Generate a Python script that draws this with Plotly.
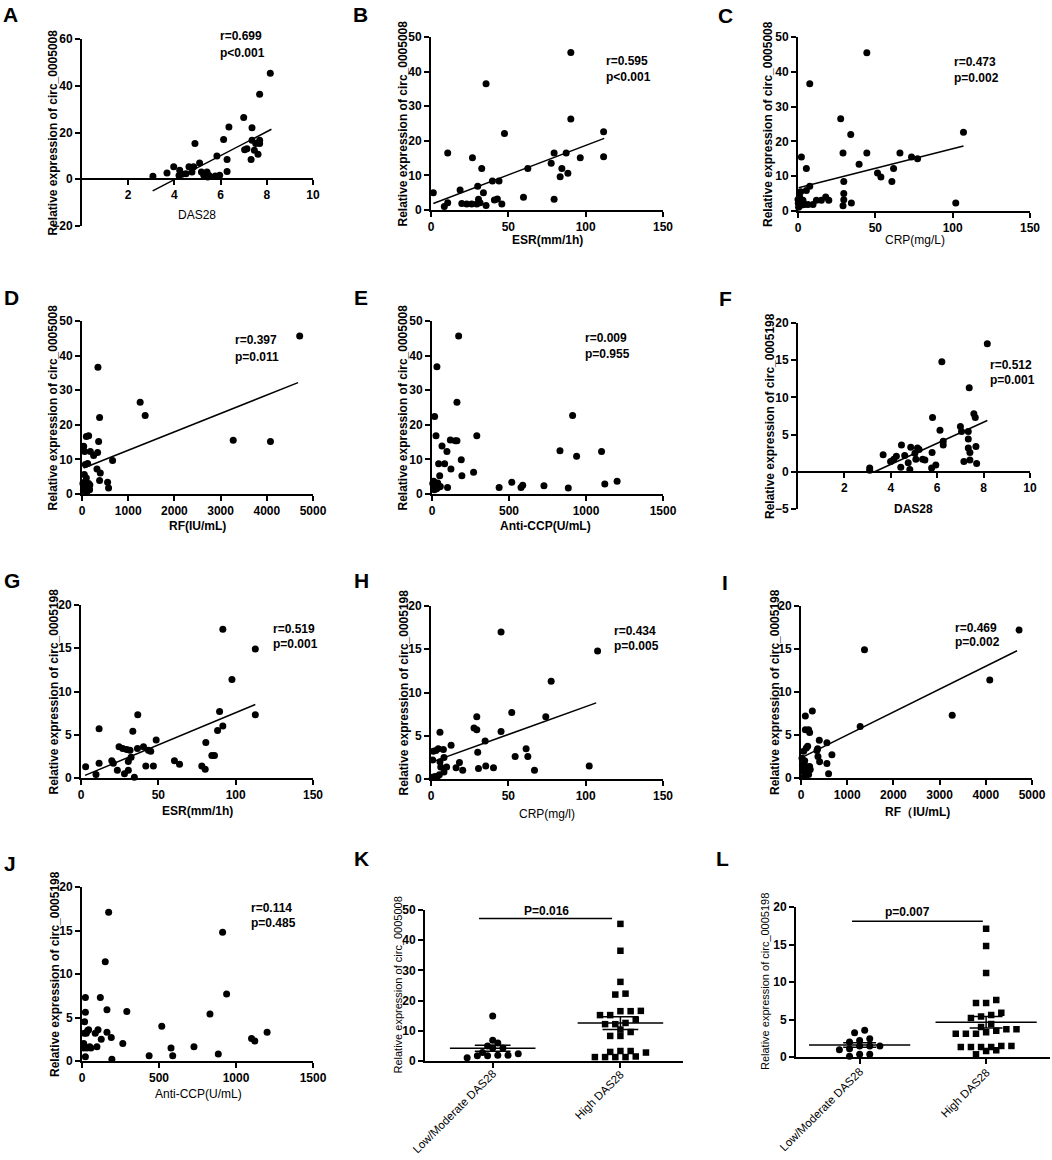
import plotly.graph_objects as go

W, H = 1052, 1160
FONT = "Liberation Sans, Arial, sans-serif"

# --- scatter data ---
a_x = [3.07, 3.68, 3.97, 4.23, 4.33, 4.5, 4.63, 4.76, 4.83, 4.89, 5.09, 5.17, 5.27, 5.41, 5.44, 5.77, 5.84, 5.96,
       6.13, 6.28, 6.28, 6.36, 7.0, 7.04, 7.14, 7.32, 7.36, 7.36, 7.46, 7.52, 7.62, 7.69, 7.69, 7.69, 8.15, 4.2, 5.35, 5.5]
a_y = [1.3, 2.7, 5.3, 3.9, 2.1, 2.4, 5.3, 3.1, 5.3, 15.3, 7.0, 3.1, 1.7, 3.1, 1.0, 1.4, 9.9, 1.7,
       17.0, 3.3, 8.4, 22.4, 26.4, 12.6, 13.1, 8.4, 22.0, 16.7, 12.4, 15.3, 10.7, 15.3, 16.7, 36.4, 45.3, 1.6, 2.2, 1.6]
a_fit_x = [3.06, 8.2]
a_fit_y = [-5.0, 21.4]

b_x = [1.5, 8.6, 10.8, 10.8, 18.8, 19.9, 23.1, 26.3, 26.8, 29.6, 30.2, 30.7, 31.7, 32.8, 33.9, 35.6, 35.6, 39.7, 41.0,
       42.9, 44.0, 45.8, 47.5, 59.8, 62.6, 77.7, 79.6, 79.6, 83.5, 84.6, 87.4, 88.5, 90.4, 90.4, 96.5, 111.6, 111.6]
b_y = [5.0, 1.0, 2.1, 16.5, 5.8, 1.9, 1.7, 1.7, 15.1, 1.7, 6.9, 3.1, 2.1, 12.0, 5.0, 1.3, 36.5, 8.4, 2.9,
       3.2, 8.4, 1.7, 22.1, 3.7, 12.0, 13.5, 3.1, 16.5, 9.6, 12.0, 16.5, 10.6, 45.5, 26.3, 15.1, 22.6, 15.4]
b_fit_x = [1.5, 112]
b_fit_y = [1.9, 20.7]

c_x = [0, 0.4, 1.1, 1.7, 2.2, 3.2, 4.3, 5.4, 5.4, 7.6, 7.6, 6.5, 9.7, 11.9, 15.1, 17.9, 19.9, 27.6, 29.1, 29.6,
       29.6, 29.6, 29.1, 34.1, 34.5, 39.5, 44.5, 44.5, 51.4, 53.6, 60.7, 61.8, 65.9, 73.4, 77.3, 102, 107, 0.2, 1.0, 2.5]
c_y = [3.3, 1.1, 4.0, 5.5, 15.5, 3.1, 1.9, 12.2, 5.9, 7.1, 36.6, 1.9, 1.9, 3.1, 3.1, 4.0, 3.1, 26.5, 16.7, 8.5,
       5.0, 3.2, 1.5, 22.0, 2.3, 13.4, 45.5, 16.7, 10.9, 9.8, 8.5, 12.2, 16.7, 15.5, 15.0, 2.3, 22.6, 2.2, 2.8, 1.7]
c_fit_x = [0.4, 107]
c_fit_y = [6.7, 18.7]

d_x = [36, 50, 36, 58, 94, 144, 72, 122, 94, 180, 252, 144, 165, 72, 338, 345, 360, 381, 324, 396, 381, 554, 575,
       662, 1259, 1367, 3273, 4079, 4712, 20, 30, 100, 150, 60, 110, 170]
d_y = [2.2, 5.6, 13.8, 12.3, 16.6, 16.8, 8.5, 8.8, 4.6, 12.3, 11.1, 3.0, 1.25, 1.25, 12.0, 36.6, 15.2, 22.1, 7.2,
       6.1, 3.9, 3.4, 1.7, 9.7, 26.5, 22.7, 15.5, 15.2, 45.7, 3.0, 1.0, 2.0, 1.5, 3.5, 0.8, 2.6]
d_fit_x = [36, 4676]
d_fit_y = [7.5, 32.2]

e_x = [11, 15, 22, 17, 26, 32, 37, 43, 50, 54, 65, 82, 97, 101, 119, 123, 151, 162, 162, 173, 190, 194, 270, 291,
       436, 518, 578, 589, 727, 831, 885, 913, 939, 1101, 1122, 1202, 5, 30, 45]
e_y = [3.7, 1.25, 2.2, 22.4, 16.8, 36.8, 3.2, 8.75, 5.3, 2.2, 13.9, 8.75, 12.3, 1.9, 15.6, 7.2, 15.4, 15.4, 26.5,
       45.7, 9.9, 5.3, 6.25, 16.8, 1.9, 3.4, 1.9, 2.5, 2.4, 12.5, 1.7, 22.7, 10.9, 12.3, 2.9, 3.7, 3.0, 1.5, 2.0]

f_x = [3.09, 3.09, 3.67, 3.99, 4.13, 4.24, 4.46, 4.43, 4.6, 4.75, 4.82, 4.86, 5.04, 5.08, 5.15, 5.22, 5.37, 5.47,
       5.78, 5.8, 5.76, 5.94, 6.12, 6.26, 6.26, 6.2, 7.0, 7.05, 7.15, 7.34, 7.38, 7.34, 7.34, 7.41, 7.41, 7.58, 7.64,
       7.67, 7.7, 8.16]
f_y = [0.5, 0.2, 2.3, 1.4, 1.7, 2.1, 3.6, 0.6, 2.2, 1.2, 0.3, 3.3, 2.5, 1.7, 3.2, 3.0, 1.7, 1.6, 2.6, 7.3, 0.5, 0.9,
       5.6, 4.1, 3.6, 14.8, 6.1, 5.4, 1.4, 5.4, 11.3, 4.4, 3.2, 2.6, 1.6, 7.8, 7.3, 3.4, 1.1, 17.2]
f_fit_x = [3.3, 8.16]
f_fit_y = [0.0, 6.9]

g_x = [3.0, 9.7, 11.7, 11.7, 19.9, 20.9, 23.5, 24.6, 27.0, 28.1, 29.6, 30.6, 30.6, 31.7, 32.4, 33.5, 34.5, 36.7,
       36.5, 40.4, 41.9, 43.6, 45.1, 46.8, 48.6, 60.4, 63.7, 78.1, 80.3, 80.7, 84.6, 86.3, 88.3, 89.6, 91.7, 91.7,
       97.6, 112.7, 112.7]
g_y = [1.3, 0.4, 1.7, 5.7, 2.0, 1.7, 0.9, 3.6, 3.4, 0.5, 3.3, 1.9, 0.9, 3.2, 2.4, 5.4, 0.1, 7.3, 3.4, 3.6, 1.4,
       3.2, 3.1, 1.4, 4.4, 2.0, 1.6, 1.4, 1.0, 4.1, 2.6, 2.6, 5.5, 7.7, 6.0, 17.2, 11.4, 14.9, 7.3]
g_fit_x = [2.6, 112.7]
g_fit_y = [0.3, 8.5]

h_x = [0.9, 1.1, 1.5, 2.6, 3.2, 4.1, 4.7, 5.4, 5.8, 5.8, 6.3, 8.0, 8.4, 8.4, 10.1, 13.0, 16.2, 18.4, 20.5, 27.8,
       29.6, 29.6, 30.2, 30.7, 35.0, 35.4, 40.4, 45.3, 45.3, 52.2, 54.4, 61.5, 62.6, 66.9, 74.2, 77.7, 102.3, 107.7]
h_y = [0.2, 2.2, 3.2, 0.3, 3.3, 0.3, 3.5, 0.5, 5.4, 2.0, 1.4, 3.4, 2.5, 0.8, 1.4, 3.9, 1.3, 1.9, 1.0, 5.9, 5.7,
       7.2, 3.1, 1.2, 4.4, 1.5, 1.3, 17.0, 5.5, 7.7, 2.6, 3.5, 2.6, 1.0, 7.2, 11.3, 1.5, 14.8]
h_fit_x = [2.6, 106.8]
h_fit_y = [2.1, 8.8]

i_x = [22, 43, 58, 72, 94, 94, 115, 115, 129, 144, 165, 144, 187, 187, 165, 245, 345, 360, 367, 396, 403, 561,
       561, 597, 669, 1281, 1374, 3273, 4086, 4719, 30, 80, 200]
i_y = [2.3, 0.8, 3.1, 0.2, 7.2, 5.6, 3.5, 1.35, 0.6, 3.7, 5.6, 0.9, 5.3, 1.35, 0.4, 7.8, 3.2, 3.4, 2.5, 4.4, 1.9,
       4.1, 1.7, 0.5, 2.7, 6.0, 14.9, 7.3, 11.4, 17.2, 1.5, 2.0, 1.0]
i_fit_x = [22, 4676]
i_fit_y = [2.4, 14.8]

j_x = [11, 11, 15, 17, 22, 22, 28, 22, 32, 37, 43, 50, 58, 86, 97, 104, 119, 125, 151, 162, 162, 173, 190, 194,
       265, 291, 436, 518, 578, 589, 727, 831, 885, 913, 939, 1101, 1122, 1202]
j_y = [2.0, 1.5, 3.2, 4.5, 5.6, 7.3, 3.2, 0.5, 1.5, 3.5, 3.6, 1.65, 1.5, 3.2, 1.65, 3.6, 7.3, 2.5, 11.4, 3.3, 5.9,
       17.1, 2.7, 0.2, 2.0, 5.7, 0.6, 4.0, 1.5, 0.6, 1.65, 5.4, 0.8, 14.8, 7.7, 2.6, 2.3, 3.3]

# --- group comparison data ---
groups = ["Low/Moderate DAS28", "High DAS28"]
k_low = [14.9, 6.9, 2.8, 1.9, 1.9, 5.0, 4.3, 1.1, 6.0, 1.7, 1.7, 4.3, 2.4]
k_high = [45.4, 36.5, 26.2, 22.0, 22.3, 16.6, 15.2, 15.2, 16.5, 16.5, 13.7, 12.2, 12.2, 12.6, 10.4, 9.6, 8.3, 8.3,
          3.0, 1.5, 1.3, 3.3, 1.3, 3.3, 1.3, 1.3, 2.8]
k_bar_x = [-0.107, 0.935]
k_bar_y = [47.2, 47.2]
l_low = [2.44, 2.0, 1.1, 3.24, 1.47, 0.36, 1.47, 0.1, 3.56, 1.47, 0.36, 2.2, 0.98]
l_high = [17.1, 14.8, 11.2, 7.6, 7.2, 7.2, 5.9, 5.4, 5.2, 5.6, 4.0, 4.4, 3.3, 3.1, 3.7, 3.7, 3.1, 3.1, 3.5, 1.47,
          1.33, 0.9, 1.33, 1.47, 0.8, 1.33, 1.33, 0.36]
l_bar_x = [-0.06, 0.974]
l_bar_y = [18.1, 18.1]

Y1 = "Relative expression of circ_0005008"
Y2 = "Relative expression of circ_0005198"


def fx(px):
    return px / W


def fy(py):
    return 1 - py / H


# pixel boxes: (x0, x1, ytop, ybottom)
scatter_panels = [
    dict(lab="A", x=a_x, y=a_y, fit=(a_fit_x, a_fit_y), box=(82, 313, 39, 226), xr=[0, 10], xt=[2, 4, 6, 8, 10],
         yr=[-20, 60], yt=[-20, 0, 20, 40, 60], xpos=179, xt_title="DAS28", xt_bold=False, xt_at=(197, 215),
         ytitle=Y1, yt_x=52, stats=("r=0.699", "p&lt;0.001"), st_at=(218, 36, 53), lab_at=(1, 1)),
    dict(lab="B", x=b_x, y=b_y, fit=(b_fit_x, b_fit_y), box=(431, 663, 37, 210), xr=[0, 150], xt=[0, 50, 100, 150],
         yr=[0, 50], yt=[0, 10, 20, 30, 40, 50], xpos=None, xt_title="ESR(mm/1h)", xt_bold=True, xt_at=(547, 240),
         ytitle=Y1, yt_x=402, stats=("r=0.595", "p&lt;0.001"), st_at=(604, 61, 77), lab_at=(351, 1)),
    dict(lab="C", x=c_x, y=c_y, fit=(c_fit_x, c_fit_y), box=(798, 1030, 37, 211), xr=[0, 150], xt=[0, 50, 100, 150],
         yr=[0, 50], yt=[0, 10, 20, 30, 40, 50], xpos=None, xt_title="CRP(mg/L)", xt_bold=False, xt_at=(915, 240),
         ytitle=Y1, yt_x=768, stats=("r=0.473", "p=0.002"), st_at=(952, 62, 78), lab_at=(716, 2)),
    dict(lab="D", x=d_x, y=d_y, fit=(d_fit_x, d_fit_y), box=(82, 313, 321, 494), xr=[0, 5000],
         xt=[0, 1000, 2000, 3000, 4000, 5000], yr=[0, 50], yt=[0, 10, 20, 30, 40, 50], xpos=None,
         xt_title="RF(IU/mL)", xt_bold=True, xt_at=(197, 526), ytitle=Y1, yt_x=53,
         stats=("r=0.397", "p=0.011"), st_at=(233, 340, 357), lab_at=(2, 284)),
    dict(lab="E", x=e_x, y=e_y, fit=None, box=(432, 663, 321, 494), xr=[0, 1500], xt=[0, 500, 1000, 1500],
         yr=[0, 50], yt=[0, 10, 20, 30, 40, 50], xpos=None, xt_title="Anti-CCP(U/mL)", xt_bold=True,
         xt_at=(545, 526), ytitle=Y1, yt_x=403, stats=("r=0.009", "p=0.955"), st_at=(583, 338, 354),
         lab_at=(352, 284)),
    dict(lab="F", x=f_x, y=f_y, fit=(f_fit_x, f_fit_y), box=(798, 1030, 323, 509), xr=[0, 10], xt=[2, 4, 6, 8, 10],
         yr=[-5, 20], yt=[-5, 0, 5, 10, 15, 20], xpos=472, xt_title="DAS28", xt_bold=True, xt_at=(913, 509),
         ytitle=Y2, yt_x=770, stats=("r=0.512", "p=0.001"), st_at=(988, 365, 380), lab_at=(717, 285)),
    dict(lab="G", x=g_x, y=g_y, fit=(g_fit_x, g_fit_y), box=(81, 313, 605, 778), xr=[0, 150], xt=[0, 50, 100, 150],
         yr=[0, 20], yt=[0, 5, 10, 15, 20], xpos=None, xt_title="ESR(mm/1h)", xt_bold=True, xt_at=(197, 811),
         ytitle=Y2, yt_x=53, stats=("r=0.519", "p=0.001"), st_at=(271, 629, 644), lab_at=(2, 567)),
    dict(lab="H", x=h_x, y=h_y, fit=(h_fit_x, h_fit_y), box=(431, 663, 606, 779), xr=[0, 150], xt=[0, 50, 100, 150],
         yr=[0, 20], yt=[0, 5, 10, 15, 20], xpos=None, xt_title="CRP(mg/l)", xt_bold=False, xt_at=(547, 814),
         ytitle=Y2, yt_x=403, stats=("r=0.434", "p=0.005"), st_at=(612, 631, 646), lab_at=(352, 567)),
    dict(lab="I", x=i_x, y=i_y, fit=(i_fit_x, i_fit_y), box=(801, 1032, 606, 778), xr=[0, 5000],
         xt=[0, 1000, 2000, 3000, 4000, 5000], yr=[0, 20], yt=[0, 5, 10, 15, 20], xpos=None,
         xt_title="RF（IU/mL)", xt_bold=True, xt_at=(917, 812), ytitle=Y2, yt_x=775,
         stats=("r=0.469", "p=0.002"), st_at=(953, 628, 642), lab_at=(720, 569)),
    dict(lab="J", x=j_x, y=j_y, fit=None, box=(82, 313, 887, 1061), xr=[0, 1500], xt=[0, 500, 1000, 1500],
         yr=[0, 20], yt=[0, 5, 10, 15, 20], xpos=None, xt_title="Anti-CCP(U/mL)", xt_bold=False, xt_at=(198, 1094),
         ytitle=Y2, yt_x=55, stats=("r=0.114", "p=0.485"), st_at=(249, 908, 923), lab_at=(2, 850)),
]

group_panels = [
    dict(lab="K", low=k_low, high=k_high, box=(425, 683, 910, 1061), xr=[-0.53, 1.49], yr=[0, 50],
         yt=[0, 10, 20, 30, 40, 50], row_h=1.6, mean_w=0.335, sem_w=0.14, bar=(k_bar_x, k_bar_y),
         ptxt="P=0.016", ptxt_at=(0.424, 49.6), ytitle=Y1, yt_x=397, lab_at=(352, 845),
         cat_at=[(502, 1064), (629, 1066)]),
    dict(lab="L", low=l_low, high=l_high, box=(796, 1050, 907, 1057), xr=[-0.503, 1.505], yr=[0, 20],
         yt=[0, 5, 10, 15, 20], row_h=0.75, mean_w=0.4, sem_w=0.13, bar=(l_bar_x, l_bar_y),
         ptxt="p=0.007", ptxt_at=(0.379, 19.4), ytitle=Y2, yt_x=765, lab_at=(714, 845),
         cat_at=[(869, 1062), (995, 1064)]),
]

tick_font = dict(family=FONT, size=12, color="black", weight="bold")
axis_common = dict(showline=True, linecolor="black", linewidth=2, ticks="outside", ticklen=5, tickwidth=2,
                   tickcolor="black", showgrid=False, zeroline=False, tickfont=tick_font, fixedrange=True,
                   automargin=False)


def paper_note(text, px, py, size=12, bold=True, **kw):
    return dict(text=text, x=fx(px), y=fy(py), xref="paper", yref="paper", showarrow=False,
                font=dict(family=FONT, size=size, color="black", weight="bold" if bold else "normal"), **kw)


def swarm(values, center, row_h, step):
    # simple deterministic column-scatter layout: bin by value, centre each row
    order = sorted(range(len(values)), key=lambda k: values[k])
    rows, cur, start = [], [], None
    for k in order:
        if start is None or values[k] - start > row_h:
            if cur:
                rows.append(cur)
            cur, start = [k], values[k]
        else:
            cur.append(k)
    rows.append(cur)
    xs = [0.0] * len(values)
    for r in rows:
        n = len(r)
        for pos, k in enumerate(r):
            xs[k] = center + (pos - (n - 1) / 2) * step
    return xs


def mean_sem(values):
    n = len(values)
    m = sum(values) / n
    sd = (sum((v - m) ** 2 for v in values) / (n - 1)) ** 0.5
    return m, sd / n ** 0.5


fig = go.Figure()
annotations = []

for i, p in enumerate(scatter_panels, 1):
    sfx = "" if i == 1 else str(i)
    x0, x1, yt, yb = p["box"]
    xa = dict(axis_common, domain=[fx(x0), fx(x1)], range=p["xr"], tickvals=p["xt"])
    if p["xpos"] is not None:
        xa.update(anchor="free", position=fy(p["xpos"]))
    else:
        xa.update(anchor="y" + sfx)
    ya = dict(axis_common, domain=[fy(yb), fy(yt)], range=p["yr"], tickvals=p["yt"], anchor="x" + sfx)
    fig.update_layout(**{"xaxis" + sfx: xa, "yaxis" + sfx: ya})

    fig.add_trace(go.Scatter(x=p["x"], y=p["y"], mode="markers", cliponaxis=False,
                             marker=dict(color="black", size=7), xaxis="x" + sfx, yaxis="y" + sfx))
    if p["fit"] is not None:
        fig.add_trace(go.Scatter(x=p["fit"][0], y=p["fit"][1], mode="lines", cliponaxis=False,
                                 line=dict(color="black", width=1.5), xaxis="x" + sfx, yaxis="y" + sfx))

    annotations.append(paper_note(p["lab"], *p["lab_at"], size=21, xanchor="left", yanchor="top"))
    annotations.append(paper_note(p["xt_title"], *p["xt_at"], bold=p["xt_bold"],
                                  xanchor="center", yanchor="middle"))
    annotations.append(paper_note(p["ytitle"], p["yt_x"], (yt + yb) / 2, textangle=-90,
                                  xanchor="center", yanchor="middle"))
    sx, sy1, sy2 = p["st_at"]
    for txt, yy in zip(p["stats"], (sy1, sy2)):
        annotations.append(paper_note(txt, sx, yy, xanchor="left", yanchor="middle"))

for j, p in enumerate(group_panels, len(scatter_panels) + 1):
    sfx = str(j)
    x0, x1, yt, yb = p["box"]
    xa = dict(axis_common, domain=[fx(x0), fx(x1)], range=p["xr"], tickvals=[0, 1], showticklabels=False,
              anchor="y" + sfx)
    ya = dict(axis_common, domain=[fy(yb), fy(yt)], range=p["yr"], tickvals=p["yt"], anchor="x" + sfx)
    fig.update_layout(**{"xaxis" + sfx: xa, "yaxis" + sfx: ya})

    for c, (vals, sym) in enumerate([(p["low"], "circle"), (p["high"], "square")]):
        xs = swarm(vals, c, p["row_h"], 0.08)
        fig.add_trace(go.Scatter(x=xs, y=vals, mode="markers", cliponaxis=False,
                                 marker=dict(color="black", size=7 if sym == "circle" else 6.5, symbol=sym),
                                 xaxis="x" + sfx, yaxis="y" + sfx))
        m, se = mean_sem(vals)
        lx = [c - p["mean_w"], c + p["mean_w"], None, c - p["sem_w"], c + p["sem_w"], None,
              c - p["sem_w"], c + p["sem_w"], None, c, c]
        ly = [m, m, None, m + se, m + se, None, m - se, m - se, None, m - se, m + se]
        fig.add_trace(go.Scatter(x=lx, y=ly, mode="lines", cliponaxis=False,
                                 line=dict(color="black", width=1.5), xaxis="x" + sfx, yaxis="y" + sfx))
        # rotated category label, its end tucked under the tick
        annotations.append(paper_note(groups[c], *p["cat_at"][c], size=11.5, bold=False, textangle=-45,
                                      xanchor="right", yanchor="top"))

    fig.add_trace(go.Scatter(x=p["bar"][0], y=p["bar"][1], mode="lines", cliponaxis=False,
                             line=dict(color="black", width=1.5), xaxis="x" + sfx, yaxis="y" + sfx))
    annotations.append(dict(text=p["ptxt"], x=p["ptxt_at"][0], y=p["ptxt_at"][1], xref="x" + sfx,
                            yref="y" + sfx, xanchor="center", yanchor="middle", showarrow=False,
                            font=dict(family=FONT, size=12, color="black", weight="bold")))
    annotations.append(paper_note(p["lab"], *p["lab_at"], size=21, xanchor="left", yanchor="top"))
    annotations.append(paper_note(p["ytitle"], p["yt_x"], (yt + yb) / 2, size=11, bold=False, textangle=-90,
                                  xanchor="center", yanchor="middle"))

fig.update_layout(template="none", width=W, height=H, margin=dict(l=0, r=0, t=0, b=0, pad=0),
                  showlegend=False, plot_bgcolor="white", paper_bgcolor="white", annotations=annotations,
                  font=dict(family=FONT, color="black"))

# page body has a default 8px margin; drop it so the figure sits at the window corner
fig.write_html("out.html", config={"displayModeBar": False},
               post_script="document.body.style.margin = '0';")
